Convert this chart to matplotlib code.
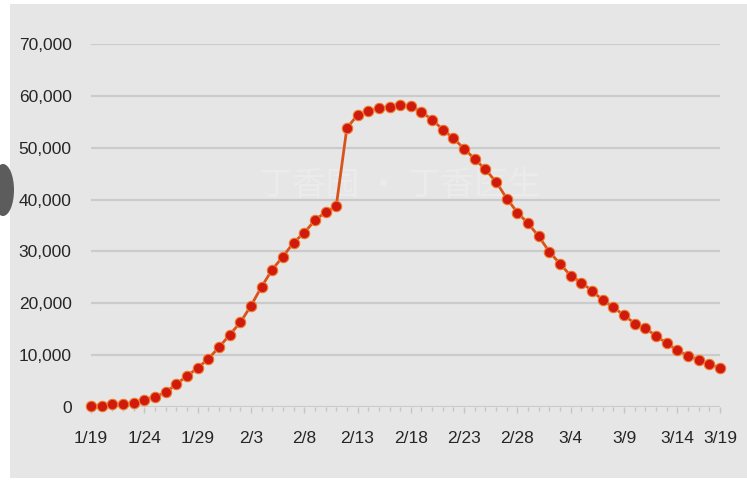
import matplotlib.pyplot as plt
from matplotlib.patches import Rectangle, Ellipse

# daily values, 1/19 .. 3/18
dates = (
    [f"1/{d}" for d in range(19, 32)]
    + [f"2/{d}" for d in range(1, 30)]
    + [f"3/{d}" for d in range(1, 19)]
)
values = [
    200, 200, 500, 500, 700, 1400, 2000, 2800, 4400, 6000,
    7500, 9300, 11500, 13900, 16300, 19500, 23200, 26500, 29000, 31700,
    33600, 36000, 37600, 38700, 53800, 56300, 57100, 57600, 57900, 58300,
    58000, 56900, 55400, 53500, 51800, 49800, 47800, 45800, 43400, 40200,
    37500, 35400, 32900, 29900, 27600, 25300, 24000, 22400, 20600, 19200,
    17700, 16100, 15200, 13700, 12300, 10900, 9900, 9100, 8300, 7500,
]
tick_labels = ["1/19", "1/24", "1/29", "2/3", "2/8", "2/13", "2/18",
               "2/23", "2/28", "3/4", "3/9", "3/14", "3/19"]
y_ticks = [0, 10000, 20000, 30000, 40000, 50000, 60000, 70000]

W, H = 747, 487
fig = plt.figure(figsize=(W / 100, H / 100), dpi=100)
fig.patch.set_facecolor("white")

# grey screenshot background
fig.patches.append(Rectangle((10 / W, 1 - 478 / H), 1 - 10 / W, 474 / H,
                             transform=fig.transFigure, facecolor="#e6e6e6",
                             edgecolor="none", zorder=-10))
fig.patches.append(Ellipse((3 / W, 1 - 190 / H), 22 / W, 52 / H,
                           transform=fig.transFigure, facecolor="#5c5c5c",
                           edgecolor="none", zorder=-9))

# faint watermark
fig.text(400 / W, 1 - 185 / H, "丁香园 · 丁香医生", ha="center", va="center",
         fontsize=24, color="#ebebeb", family=["Noto Sans CJK SC", "DejaVu Sans"],
         zorder=-5)

ax = fig.add_axes([91 / W, 1 - 407 / H, (720 - 91) / W, (407 - 44) / H])
ax.set_facecolor("none")
ax.set_zorder(5)

x = list(range(len(values)))
ax.plot(x, values, color="#d9541a", lw=2, marker="o", ms=7.5,
        mfc="#d01a0e", mec="#ee7a2c", mew=0.8, clip_on=False, zorder=3)

ax.set_xlim(0, len(values) - 1)
ax.set_ylim(0, 70000)
ax.set_yticks(y_ticks)
ax.set_yticklabels([f"{v:,}" for v in y_ticks])
tick_idx = list(range(0, 60, 5)) + [len(values) - 1]
ax.set_xticks(tick_idx)
ax.set_xticklabels(tick_labels)
ax.set_xticks(x, minor=True)

ax.grid(axis="y", color="#cbcbcb", lw=1.6)
ax.set_axisbelow(True)
for s in ax.spines.values():
    s.set_visible(False)

for lab in ax.get_xticklabels() + ax.get_yticklabels():
    lab.set_fontfamily(["Liberation Sans", "DejaVu Sans"])
    lab.set_fontsize(12.5)
ax.tick_params(axis="y", length=0, pad=14, colors="#262626")
ax.tick_params(axis="x", which="major", length=4, width=1, color="#c4c4c4",
               pad=13, labelcolor="#262626")
ax.tick_params(axis="x", which="minor", length=3, width=1, color="#c4c4c4")

fig.savefig("out.png", dpi=100)
